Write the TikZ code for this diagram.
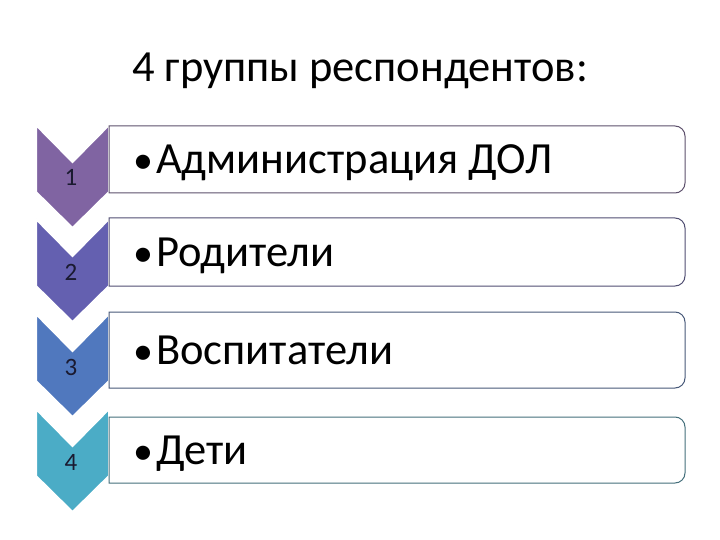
\documentclass[tikz,border=0pt]{standalone}
\usepackage{fontspec}
\setmainfont{Carlito}
\definecolor{cA}{HTML}{8064A2}
\definecolor{cB}{HTML}{6460B0}
\definecolor{cC}{HTML}{5078BE}
\definecolor{cD}{HTML}{4BACC6}
\definecolor{numc}{HTML}{1A1A30}
\begin{document}
\begin{tikzpicture}[x=1pt,y=-1pt]
\tikzset{
  chev/.style={fill=#1, draw=white, line width=2pt, line join=miter},
  itembox/.style={fill=white, draw=#1!45!darkgray, line width=1pt},
  itemtext/.style={font=\fontsize{44.5}{52}\selectfont, anchor=base west, inner sep=0pt},
  bullettext/.style={font=\fontsize{40}{50}\selectfont, anchor=base, inner sep=0pt},
  numtext/.style={font=\fontsize{25}{30}\selectfont, anchor=base, inner sep=0pt, text=numc},
  titletext/.style={font=\fontsize{44.5}{52}\selectfont, anchor=base, inner sep=0pt},
}
\useasboundingbox[fill=white] (0,0) rectangle (720,540);
\node[titletext] (title) at (360,82) {4 группы респондентов:};
\foreach \i/\t/\bt/\bb/\col/\txt in {
  1/125/126/193/cA/Администрация ДОЛ,
  2/219/218/286/cB/Родители,
  3/314/312/388/cC/Воспитатели,
  4/409/417/483/cD/Дети}{
  \filldraw[chev=\col] (36,\t) -- (72.5,{\t+37}) -- (109,\t) -- (109,{\t+67})
     -- (72.5,{\t+103}) -- (36,{\t+67}) -- cycle;
  \draw[itembox=\col] (109,\bt) -- (600,\bt) [rounded corners=10pt] -- (685,\bt)
     -- (685,\bb) -- (600,\bb) [sharp corners] -- (109,\bb) -- cycle;
  \node[numtext] (num\i) at (71,{\t+61}) {\i};
  \node[bullettext] (bul\i) at (143,{(\bt+\bb)/2+14}) {•};
  \node[itemtext] (txt\i) at (156,{(\bt+\bb)/2+14}) {\txt};
}
\end{tikzpicture}
\end{document}
